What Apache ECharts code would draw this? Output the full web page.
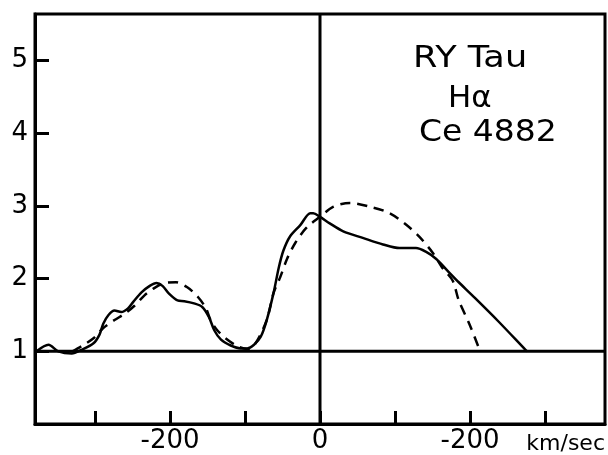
<!DOCTYPE html>
<html>
<head>
<meta charset="utf-8">
<script src="https://cdn.jsdelivr.net/npm/echarts@6/dist/echarts.min.js"></script>
<style>html,body{margin:0;padding:0;background:#fff}#c{width:608px;height:455px}</style>
</head>
<body>
<div id="c"></div>
<script>
// Observed Hα profile (solid): [velocity km/s, relative intensity]
var observedProfile = [
  [-378,1.0],[-362,1.09],[-349,1.0],[-331,0.97],[-318,1.02],[-302,1.11],[-294,1.23],[-289,1.38],
  [-282,1.50],[-274,1.56],[-265,1.54],[-256,1.59],[-249,1.68],[-238,1.81],[-227,1.90],[-218,1.94],
  [-210,1.90],[-201,1.79],[-190,1.70],[-181,1.69],[-168,1.66],[-157,1.61],[-148,1.47],[-141,1.29],
  [-132,1.16],[-119,1.08],[-106,1.04],[-97,1.04],[-88,1.09],[-79,1.20],[-71,1.43],[-62,1.80],
  [-55,2.15],[-49,2.38],[-40,2.58],[-26,2.74],[-13,2.90],[-9,2.90],[0,2.85],[13,2.76],[31,2.65],
  [57,2.56],[84,2.47],[106,2.42],[128,2.42],[141,2.37],[155,2.27],[168,2.13],[185,1.95],
  [203,1.77],[238,1.41],[274,1.02],[276,1.0]
];
// Model profile (dashed)
var modelProfile = [
  [-330,1.0],[-318,1.07],[-302,1.18],[-289,1.32],[-274,1.43],[-260,1.52],[-247,1.63],[-234,1.77],
  [-221,1.87],[-207,1.94],[-192,1.95],[-177,1.88],[-163,1.75],[-152,1.59],[-146,1.43],[-137,1.29],
  [-126,1.18],[-110,1.07],[-97,1.03],[-86,1.11],[-71,1.43],[-62,1.80],[-53,2.02],[-44,2.27],
  [-33,2.49],[-18,2.70],[0,2.85],[18,2.99],[40,3.04],[66,2.99],[93,2.90],[115,2.74],[132,2.58],
  [150,2.36],[163,2.15],[177,1.97],[185,1.70],[199,1.38],[212,1.04],[213,1.0]
];
var continuumLevel = 1;
var zeroVelocity = 0;
var xRange = [-380, 380];
var yRange = [0, 5.64];
var xTickValues = [-300, -200, -100, 0, 100, 200, 300];
var xLabelValues = [-200, 0, 200];
var xLabelTexts = ['-200', '0', '-200'];
var yTickValues = [1, 2, 3, 4, 5];
var yTickLabels = ['1', '2', '3', '4', '5'];
var unitLabel = 'km/sec';
var annotations = ['RY Tau', 'Hα', 'Ce 4882'];

var chart = echarts.init(document.getElementById('c'));
var font = 'DejaVu Sans';
chart.setOption({
  animation: false,
  backgroundColor: '#fff',
  grid: {left: 35, right: 2, top: 14, bottom: 26, show: true, borderColor: '#000', borderWidth: 3},
  xAxis: {
    type: 'value', min: xRange[0], max: xRange[1],
    axisLine: {show: true, onZero: false, lineStyle: {color: '#000', width: 3}},
    axisTick: {show: true, inside: true, length: 13, customValues: xTickValues, lineStyle: {color: '#000', width: 3}},
    splitLine: {show: false},
    axisLabel: {
      color: '#000', fontSize: 26, fontFamily: font, margin: 4,
      customValues: xLabelValues,
      formatter: function (v) { var i = xLabelValues.indexOf(Math.round(v)); return i >= 0 ? xLabelTexts[i] : ''; }
    },
    name: unitLabel, nameLocation: 'end', nameGap: 0,
    nameTextStyle: {color: '#000', fontSize: 22, fontFamily: font, align: 'right', verticalAlign: 'top', padding: [9, 0, 0, 0]}
  },
  yAxis: {
    type: 'value', min: yRange[0], max: yRange[1],
    axisLine: {show: true, onZero: false, lineStyle: {color: '#000', width: 3}},
    axisTick: {show: true, inside: true, length: 14, customValues: yTickValues, lineStyle: {color: '#000', width: 3}},
    splitLine: {show: false},
    axisLabel: {
      color: '#000', fontSize: 26, fontFamily: font, margin: 7,
      customValues: yTickValues,
      formatter: function (v) { var i = yTickValues.indexOf(Math.round(v)); return i >= 0 ? yTickLabels[i] : ''; }
    }
  },
  series: [
    {type: 'line', data: [[xRange[0], continuumLevel], [xRange[1], continuumLevel]], symbol: 'none',
     lineStyle: {color: '#000', width: 3}, z: 3},
    {type: 'line', data: [[zeroVelocity, yRange[0]], [zeroVelocity, yRange[1]]], symbol: 'none',
     lineStyle: {color: '#000', width: 3}, z: 3},
    {type: 'line', data: modelProfile, symbol: 'none', smooth: 0.3,
     lineStyle: {color: '#000', width: 2.5, type: [10, 7]}, z: 4},
    {type: 'line', data: observedProfile, symbol: 'none', smooth: 0.3,
     lineStyle: {color: '#000', width: 2.5}, z: 5}
  ],
  graphic: [
    {type: 'text', x: 413, y: 44, scaleX: 1.17, style: {text: annotations[0], font: '30px "DejaVu Sans"', fill: '#000'}},
    {type: 'text', x: 448, y: 84, scaleX: 1.03, style: {text: annotations[1], font: '30px "DejaVu Sans"', fill: '#000'}},
    {type: 'text', x: 419, y: 118, scaleX: 1.1, style: {text: annotations[2], font: '30px "DejaVu Sans"', fill: '#000'}}
  ]
});
</script>
</body>
</html>
